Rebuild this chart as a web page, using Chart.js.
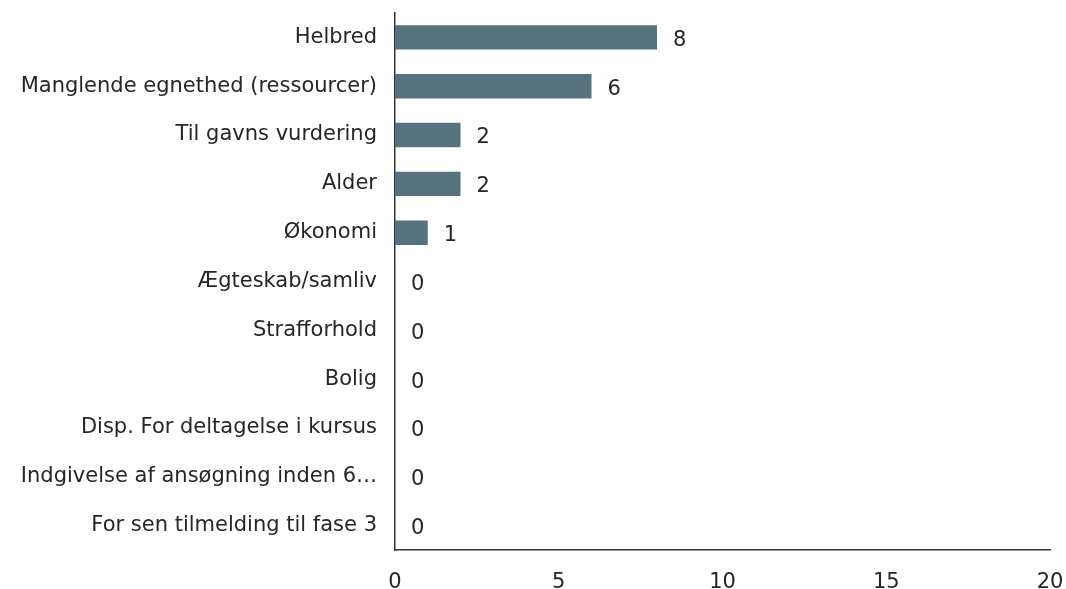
<!DOCTYPE html>
<html>
<head>
<meta charset="utf-8">
<script src="https://cdn.jsdelivr.net/npm/chart.js@4/dist/chart.umd.min.js"></script>
<style>
  html, body { margin: 0; padding: 0; background: #fff; }
</style>
</head>
<body>
<canvas id="chart" width="1066" height="589"></canvas>
<script>
var categories = [
  "Helbred",
  "Manglende egnethed (ressourcer)",
  "Til gavns vurdering",
  "Alder",
  "Økonomi",
  "Ægteskab/samliv",
  "Strafforhold",
  "Bolig",
  "Disp. For deltagelse i kursus",
  "Indgivelse af ansøgning inden 6…",
  "For sen tilmelding til fase 3"
];
var values = [8, 6, 2, 2, 1, 0, 0, 0, 0, 0, 0];
var x_ticks = [0, 5, 10, 15, 20];

var bar_clr = "#57727f";
var text_clr = "#262626";
var font_family = "'DejaVu Sans', Verdana, sans-serif";
var font_size = 21;

// draws the value next to each bar end
var valueLabels = {
  id: 'valueLabels',
  afterDatasetsDraw: function(chart) {
    var ctx = chart.ctx;
    var meta = chart.getDatasetMeta(0);
    ctx.save();
    ctx.fillStyle = text_clr;
    ctx.font = font_size + "px " + font_family;
    ctx.textAlign = 'left';
    ctx.textBaseline = 'middle';
    meta.data.forEach(function(bar, i) {
      ctx.fillText(String(values[i]), bar.x + 16, bar.y + 3);
    });
    ctx.restore();
  }
};

var ctx = document.getElementById('chart').getContext('2d');
window.myChart = new Chart(ctx, {
  type: 'bar',
  data: {
    labels: categories,
    datasets: [{
      data: values,
      backgroundColor: bar_clr,
      borderWidth: 0,
      barPercentage: 0.5,
      categoryPercentage: 1.0
    }]
  },
  plugins: [valueLabels],
  options: {
    indexAxis: 'y',
    responsive: false,
    animation: false,
    layout: {
      padding: { top: 13, right: 16, left: 0, bottom: 0 }
    },
    scales: {
      x: {
        min: 0,
        max: 20,
        afterBuildTicks: function(scale) {
          scale.ticks = x_ticks.map(function(v) { return {value: v}; });
        },
        afterFit: function(scale) {
          scale.height = 39;
          scale.paddingLeft = 0;
          scale.paddingRight = 0;
        },
        grid: { display: false, drawTicks: false },
        border: { display: true, color: '#333', width: 1.5 },
        ticks: {
          color: text_clr,
          padding: 20,
          maxRotation: 0,
          font: { size: font_size, family: font_family }
        }
      },
      y: {
        afterFit: function(scale) {
          scale.width = 395;
          scale.paddingTop = 0;
          scale.paddingBottom = 0;
        },
        grid: { display: false, drawTicks: false },
        border: { display: true, color: '#333', width: 1.5 },
        ticks: {
          color: text_clr,
          padding: 18,
          autoSkip: false,
          font: { size: font_size, family: font_family }
        }
      }
    },
    plugins: {
      legend: { display: false },
      tooltip: { enabled: false }
    }
  }
});
</script>
</body>
</html>
